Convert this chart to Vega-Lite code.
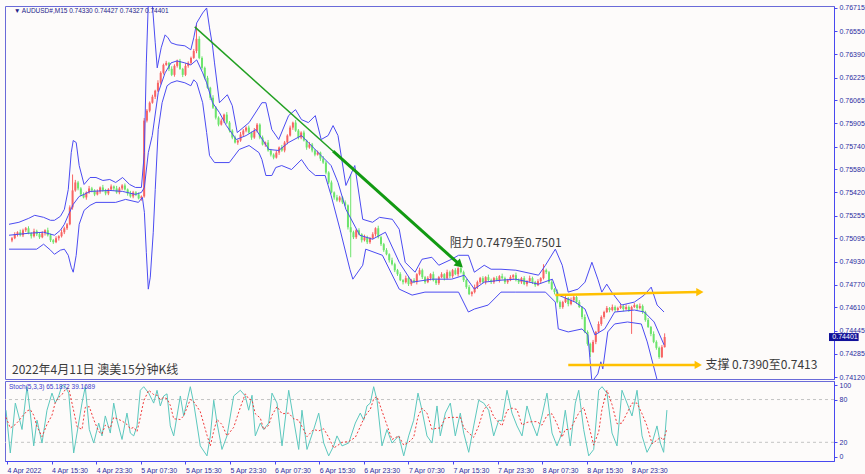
{
  "$schema": "https://vega.github.io/schema/vega-lite/v6.json",
  "background": "#FDFBFA",
  "padding": {"left": 3, "top": 3, "right": 0, "bottom": 0},
  "spacing": 2,
  "bounds": "flush",
  "config": {
    "view": {"stroke": "#6A6AD8", "strokeWidth": 1},
    "axis": {"labelFont": "Liberation Sans", "labelFontSize": 7, "labelColor": "#2B2BA0", "domainColor": "#4848F0", "tickColor": "#4848F0", "tickSize": 3, "grid": false, "labelPadding": 2, "labelOverlap": false}
  },
  "datasets": {
    "candles": "t,o,h,l,c\n0,0.75080,0.75105,0.75068,0.75096\n0.5,0.75096,0.75138,0.75089,0.75124\n1,0.75124,0.75145,0.75108,0.75138\n1.5,0.75138,0.75156,0.75108,0.75117\n2,0.75117,0.75163,0.75104,0.75152\n2.5,0.75152,0.75175,0.75140,0.75166\n3,0.75166,0.75180,0.75124,0.75131\n3.5,0.75131,0.75138,0.75094,0.75110\n4,0.75110,0.75163,0.75101,0.75145\n4.5,0.75145,0.75156,0.75111,0.75124\n5,0.75124,0.75133,0.75091,0.75103\n5.5,0.75103,0.75145,0.75096,0.75131\n6,0.75131,0.75159,0.75115,0.75152\n6.5,0.75152,0.75170,0.75108,0.75117\n7,0.75117,0.75128,0.75069,0.75082\n7.5,0.75082,0.75091,0.75056,0.75068\n8,0.75068,0.75110,0.75061,0.75096\n8.5,0.75096,0.75117,0.75080,0.75110\n9,0.75110,0.75156,0.75101,0.75138\n9.5,0.75138,0.75177,0.75125,0.75166\n10,0.75166,0.75203,0.75154,0.75194\n10.5,0.75194,0.75327,0.75187,0.75313\n11,0.75313,0.75544,0.75297,0.75432\n11.5,0.75432,0.75506,0.75423,0.75488\n12,0.75488,0.75499,0.75433,0.75446\n12.5,0.75446,0.75455,0.75392,0.75404\n13,0.75404,0.75418,0.75376,0.75383\n13.5,0.75383,0.75425,0.75367,0.75418\n14,0.75418,0.75464,0.75409,0.75446\n14.5,0.75446,0.75457,0.75419,0.75432\n15,0.75432,0.75441,0.75392,0.75404\n15.5,0.75404,0.75439,0.75397,0.75425\n16,0.75425,0.75460,0.75409,0.75453\n16.5,0.75453,0.75471,0.75423,0.75432\n17,0.75432,0.75443,0.75398,0.75411\n17.5,0.75411,0.75448,0.75399,0.75439\n18,0.75439,0.75474,0.75432,0.75460\n18.5,0.75460,0.75467,0.75430,0.75446\n19,0.75446,0.75464,0.75409,0.75418\n19.5,0.75418,0.75457,0.75405,0.75446\n20,0.75446,0.75476,0.75434,0.75467\n20.5,0.75467,0.75481,0.75432,0.75439\n21,0.75439,0.75446,0.75395,0.75411\n21.5,0.75411,0.75429,0.75381,0.75390\n22,0.75390,0.75429,0.75377,0.75418\n22.5,0.75418,0.75427,0.75392,0.75404\n23,0.75404,0.75418,0.75369,0.75376\n23.5,0.75376,0.75397,0.75360,0.75390\n24,0.75390,0.75941,0.75381,0.75923\n24.5,0.75923,0.76004,0.75910,0.75993\n25,0.75993,0.76058,0.75981,0.76049\n25.5,0.76049,0.76105,0.76042,0.76091\n26,0.76091,0.76140,0.76075,0.76133\n26.5,0.76133,0.76207,0.76124,0.76189\n27,0.76189,0.76270,0.76176,0.76259\n27.5,0.76259,0.76324,0.76247,0.76315\n28,0.76315,0.76343,0.76308,0.76329\n28.5,0.76329,0.76336,0.76271,0.76287\n29,0.76287,0.76305,0.76236,0.76245\n29.5,0.76245,0.76319,0.76232,0.76308\n30,0.76308,0.76352,0.76296,0.76343\n30.5,0.76343,0.76357,0.76280,0.76287\n31,0.76287,0.76294,0.76229,0.76245\n31.5,0.76245,0.76326,0.76236,0.76308\n32,0.76308,0.76340,0.76295,0.76329\n32.5,0.76329,0.76373,0.76317,0.76364\n33,0.76364,0.76427,0.76357,0.76413\n33.5,0.76413,0.76596,0.76397,0.76498\n34,0.76498,0.76516,0.76355,0.76364\n34.5,0.76364,0.76375,0.76281,0.76294\n35,0.76294,0.76303,0.76212,0.76224\n35.5,0.76224,0.76238,0.76147,0.76154\n36,0.76154,0.76161,0.76068,0.76084\n36.5,0.76084,0.76102,0.76005,0.76014\n37,0.76014,0.76025,0.75931,0.75944\n37.5,0.75944,0.75953,0.75883,0.75895\n38,0.75895,0.75937,0.75888,0.75923\n38.5,0.75923,0.75972,0.75907,0.75965\n39,0.75965,0.75983,0.75900,0.75909\n39.5,0.75909,0.75920,0.75840,0.75853\n40,0.75853,0.75862,0.75792,0.75804\n40.5,0.75804,0.75818,0.75762,0.75769\n41,0.75769,0.75790,0.75753,0.75783\n41.5,0.75783,0.75843,0.75774,0.75825\n42,0.75825,0.75864,0.75812,0.75853\n42.5,0.75853,0.75883,0.75841,0.75874\n43,0.75874,0.75888,0.75832,0.75839\n43.5,0.75839,0.75846,0.75788,0.75804\n44,0.75804,0.75871,0.75795,0.75853\n44.5,0.75853,0.75906,0.75840,0.75895\n45,0.75895,0.75904,0.75792,0.75804\n45.5,0.75804,0.75818,0.75748,0.75755\n46,0.75755,0.75776,0.75739,0.75769\n46.5,0.75769,0.75787,0.75704,0.75713\n47,0.75713,0.75724,0.75671,0.75684\n47.5,0.75684,0.75693,0.75651,0.75663\n48,0.75663,0.75712,0.75656,0.75698\n48.5,0.75698,0.75741,0.75682,0.75734\n49,0.75734,0.75752,0.75704,0.75713\n49.5,0.75713,0.75780,0.75700,0.75769\n50,0.75769,0.75827,0.75757,0.75818\n50.5,0.75818,0.75888,0.75811,0.75874\n51,0.75874,0.75916,0.75858,0.75909\n51.5,0.75909,0.75927,0.75844,0.75853\n52,0.75853,0.75864,0.75791,0.75804\n52.5,0.75804,0.75848,0.75792,0.75839\n53,0.75839,0.75853,0.75776,0.75783\n53.5,0.75783,0.75790,0.75718,0.75734\n54,0.75734,0.75773,0.75725,0.75755\n54.5,0.75755,0.75766,0.75700,0.75713\n55,0.75713,0.75722,0.75672,0.75684\n55.5,0.75684,0.75712,0.75677,0.75698\n56,0.75698,0.75705,0.75640,0.75656\n56.5,0.75656,0.75674,0.75619,0.75628\n57,0.75628,0.75639,0.75545,0.75558\n57.5,0.75558,0.75567,0.75476,0.75488\n58,0.75488,0.75502,0.75411,0.75418\n58.5,0.75418,0.75425,0.75367,0.75383\n59,0.75383,0.75401,0.75353,0.75362\n59.5,0.75362,0.75394,0.75349,0.75383\n60,0.75383,0.75392,0.75336,0.75348\n60.5,0.75348,0.75362,0.75320,0.75327\n61,0.75327,0.75334,0.75157,0.75173\n61.5,0.75173,0.75544,0.74962,0.75138\n62,0.75138,0.75149,0.75090,0.75103\n62.5,0.75103,0.75161,0.75091,0.75152\n63,0.75152,0.75166,0.75117,0.75124\n63.5,0.75124,0.75131,0.75066,0.75082\n64,0.75082,0.75121,0.75073,0.75103\n64.5,0.75103,0.75114,0.75055,0.75068\n65,0.75068,0.75105,0.75056,0.75096\n65.5,0.75096,0.75138,0.75089,0.75124\n66,0.75124,0.75173,0.75108,0.75166\n66.5,0.75166,0.75184,0.75094,0.75103\n67,0.75103,0.75114,0.75041,0.75054\n67.5,0.75054,0.75063,0.75000,0.75012\n68,0.75012,0.75026,0.74976,0.74983\n68.5,0.74983,0.74990,0.74925,0.74941\n69,0.74941,0.74959,0.74904,0.74913\n69.5,0.74913,0.74924,0.74858,0.74871\n70,0.74871,0.74880,0.74831,0.74843\n70.5,0.74843,0.74857,0.74794,0.74801\n71,0.74801,0.74808,0.74771,0.74787\n71.5,0.74787,0.74833,0.74778,0.74815\n72,0.74815,0.74826,0.74760,0.74773\n72.5,0.74773,0.74810,0.74761,0.74801\n73,0.74801,0.74815,0.74780,0.74787\n73.5,0.74787,0.74850,0.74771,0.74843\n74,0.74843,0.74889,0.74834,0.74871\n74.5,0.74871,0.74882,0.74809,0.74822\n75,0.74822,0.74831,0.74775,0.74787\n75.5,0.74787,0.74829,0.74780,0.74815\n76,0.74815,0.74850,0.74799,0.74843\n76.5,0.74843,0.74861,0.74792,0.74801\n77,0.74801,0.74812,0.74767,0.74780\n77.5,0.74780,0.74831,0.74768,0.74822\n78,0.74822,0.74857,0.74815,0.74843\n78.5,0.74843,0.74850,0.74799,0.74815\n79,0.74815,0.74875,0.74806,0.74857\n79.5,0.74857,0.74868,0.74816,0.74829\n80,0.74829,0.74880,0.74817,0.74871\n80.5,0.74871,0.74885,0.74836,0.74843\n81,0.74843,0.74892,0.74827,0.74885\n81.5,0.74885,0.74903,0.74848,0.74857\n82,0.74857,0.74868,0.74788,0.74801\n82.5,0.74801,0.74810,0.74740,0.74752\n83,0.74752,0.74766,0.74696,0.74703\n83.5,0.74703,0.74724,0.74687,0.74717\n84,0.74717,0.74770,0.74708,0.74752\n84.5,0.74752,0.74798,0.74739,0.74787\n85,0.74787,0.74824,0.74775,0.74815\n85.5,0.74815,0.74829,0.74780,0.74787\n86,0.74787,0.74829,0.74771,0.74822\n86.5,0.74822,0.74840,0.74792,0.74801\n87,0.74801,0.74812,0.74774,0.74787\n87.5,0.74787,0.74824,0.74775,0.74815\n88,0.74815,0.74829,0.74794,0.74801\n88.5,0.74801,0.74836,0.74785,0.74829\n89,0.74829,0.74847,0.74806,0.74815\n89.5,0.74815,0.74826,0.74774,0.74787\n90,0.74787,0.74810,0.74775,0.74801\n90.5,0.74801,0.74836,0.74794,0.74822\n91,0.74822,0.74843,0.74806,0.74836\n91.5,0.74836,0.74854,0.74792,0.74801\n92,0.74801,0.74812,0.74774,0.74787\n92.5,0.74787,0.74824,0.74775,0.74815\n93,0.74815,0.74829,0.74766,0.74773\n93.5,0.74773,0.74801,0.74757,0.74794\n94,0.74794,0.74833,0.74785,0.74815\n94.5,0.74815,0.74826,0.74774,0.74787\n95,0.74787,0.74796,0.74754,0.74766\n95.5,0.74766,0.74808,0.74759,0.74794\n96,0.74794,0.74822,0.74778,0.74815\n96.5,0.74815,0.74913,0.74806,0.74871\n97,0.74871,0.74882,0.74844,0.74857\n97.5,0.74857,0.74866,0.74775,0.74787\n98,0.74787,0.74801,0.74731,0.74738\n98.5,0.74738,0.74745,0.74701,0.74717\n99,0.74717,0.74735,0.74638,0.74647\n99.5,0.74647,0.74658,0.74599,0.74612\n100,0.74612,0.74656,0.74600,0.74647\n100.5,0.74647,0.74689,0.74640,0.74675\n101,0.74675,0.74682,0.74617,0.74633\n101.5,0.74633,0.74679,0.74624,0.74661\n102,0.74661,0.74693,0.74648,0.74682\n102.5,0.74682,0.74691,0.74635,0.74647\n103,0.74647,0.74661,0.74605,0.74612\n103.5,0.74612,0.74619,0.74526,0.74542\n104,0.74542,0.74560,0.74428,0.74437\n104.5,0.74437,0.74448,0.74340,0.74353\n105,0.74353,0.74362,0.74261,0.74296\n105.5,0.74296,0.74381,0.74289,0.74367\n106,0.74367,0.74444,0.74351,0.74437\n106.5,0.74437,0.74511,0.74428,0.74493\n107,0.74493,0.74553,0.74480,0.74542\n107.5,0.74542,0.74586,0.74530,0.74577\n108,0.74577,0.74619,0.74570,0.74605\n108.5,0.74605,0.74612,0.74575,0.74591\n109,0.74591,0.74630,0.74582,0.74612\n109.5,0.74612,0.74623,0.74578,0.74591\n110,0.74591,0.74614,0.74579,0.74605\n110.5,0.74605,0.74633,0.74598,0.74619\n111,0.74619,0.74626,0.74582,0.74598\n111.5,0.74598,0.74630,0.74589,0.74612\n112,0.74612,0.74623,0.74578,0.74591\n112.5,0.74591,0.74621,0.74423,0.74612\n113,0.74612,0.74640,0.74605,0.74626\n113.5,0.74626,0.74633,0.74589,0.74605\n114,0.74605,0.74637,0.74596,0.74619\n114.5,0.74619,0.74630,0.74564,0.74577\n115,0.74577,0.74586,0.74509,0.74521\n115.5,0.74521,0.74535,0.74465,0.74472\n116,0.74472,0.74479,0.74407,0.74423\n116.5,0.74423,0.74441,0.74358,0.74367\n117,0.74367,0.74378,0.74312,0.74325\n117.5,0.74325,0.74334,0.74248,0.74260\n118,0.74260,0.74344,0.74253,0.74330\n118.5,0.74330,0.74427,0.74327,0.74401",
    "bands": "t,b,p\n-0.54,u,0.75194\n1.26,u,0.75208\n3.05,u,0.75236\n4.13,u,0.75257\n5.74,u,0.75243\n7.00,u,0.75222\n7.71,u,0.75222\n8.79,u,0.75250\n9.51,u,0.75299\n10.22,u,0.75439\n10.76,u,0.75698\n11.12,u,0.75783\n11.66,u,0.75769\n12.20,u,0.75607\n13.09,u,0.75474\n14.17,u,0.75523\n15.25,u,0.75523\n16.50,u,0.75502\n17.76,u,0.75509\n18.83,u,0.75488\n20.09,u,0.75523\n21.35,u,0.75474\n22.42,u,0.75453\n23.50,u,0.75453\n24.04,u,0.75698\n24.39,u,0.76329\n24.75,u,0.76750\n25.47,u,0.76750\n26.01,u,0.76470\n26.37,u,0.76294\n27.09,u,0.76435\n27.80,u,0.76526\n28.34,u,0.76505\n28.88,u,0.76470\n29.95,u,0.76456\n31.39,u,0.76449\n32.47,u,0.76421\n33.00,u,0.76505\n33.54,u,0.76610\n34.62,u,0.76680\n35.34,u,0.76715\n35.87,u,0.76575\n36.41,u,0.76449\n36.77,u,0.76329\n37.67,u,0.76049\n39.10,u,0.76105\n40.00,u,0.76028\n40.90,u,0.75839\n43.05,u,0.75909\n45.38,u,0.76049\n46.10,u,0.76049\n47.18,u,0.75860\n48.43,u,0.75790\n50.22,u,0.75958\n51.48,u,0.76000\n52.56,u,0.75930\n53.81,u,0.75909\n55.07,u,0.75958\n56.14,u,0.75790\n57.40,u,0.75818\n58.30,u,0.75888\n59.19,u,0.75818\n60.63,u,0.75467\n62.24,u,0.75607\n63.68,u,0.75229\n65.47,u,0.75208\n66.73,u,0.75243\n69.06,u,0.75229\n70.31,u,0.75159\n71.39,u,0.74927\n73.18,u,0.74857\n74.44,u,0.74948\n76.23,u,0.74962\n77.49,u,0.74906\n79.82,u,0.74948\n81.08,u,0.74976\n82.87,u,0.74976\n83.95,u,0.74857\n85.74,u,0.74906\n86.99,u,0.74878\n88.79,u,0.74878\n91.48,u,0.74871\n95.60,u,0.74836\n96.86,u,0.74906\n98.65,u,0.75019\n99.91,u,0.74906\n100.99,u,0.74717\n102.78,u,0.74738\n104.04,u,0.74787\n105.29,u,0.74927\n106.37,u,0.74808\n107.09,u,0.74717\n107.99,u,0.74773\n108.88,u,0.74717\n110.68,u,0.74626\n113.01,u,0.74647\n114.80,u,0.74696\n116.06,u,0.74752\n117.13,u,0.74626\n118.39,u,0.74577\n-0.54,m,0.75117\n3.05,m,0.75131\n5.74,m,0.75138\n7.71,m,0.75117\n8.79,m,0.75152\n9.51,m,0.75194\n10.22,m,0.75257\n11.12,m,0.75334\n12.20,m,0.75390\n13.09,m,0.75404\n14.17,m,0.75425\n17.76,m,0.75432\n20.09,m,0.75425\n22.42,m,0.75404\n23.50,m,0.75418\n24.04,m,0.75453\n24.75,m,0.75698\n25.47,m,0.75818\n26.55,m,0.76119\n27.80,m,0.76259\n28.88,m,0.76329\n29.95,m,0.76343\n31.39,m,0.76329\n32.47,m,0.76315\n33.54,m,0.76350\n34.62,m,0.76259\n35.34,m,0.76189\n36.41,m,0.76049\n37.67,m,0.75979\n38.92,m,0.75888\n40.72,m,0.75790\n42.51,m,0.75818\n44.31,m,0.75860\n46.64,m,0.75720\n48.43,m,0.75713\n50.22,m,0.75769\n52.56,m,0.75818\n53.81,m,0.75769\n56.14,m,0.75677\n57.94,m,0.75607\n59.19,m,0.75488\n60.63,m,0.75299\n63.14,m,0.75117\n65.47,m,0.75089\n67.80,m,0.75138\n70.31,m,0.74927\n72.65,m,0.74787\n76.23,m,0.74808\n79.82,m,0.74808\n82.15,m,0.74836\n83.95,m,0.74738\n85.74,m,0.74787\n88.79,m,0.74801\n91.48,m,0.74808\n95.60,m,0.74773\n98.11,m,0.74808\n99.19,m,0.74696\n102.24,m,0.74647\n104.04,m,0.74598\n105.83,m,0.74416\n107.62,m,0.74458\n109.42,m,0.74577\n113.01,m,0.74591\n114.80,m,0.74577\n116.59,m,0.74507\n118.39,m,0.74346\n-0.54,l,0.75019\n4.48,l,0.75019\n5.74,l,0.75054\n7.00,l,0.75012\n7.71,l,0.74983\n8.79,l,0.75012\n9.51,l,0.75019\n10.22,l,0.74976\n10.76,l,0.74892\n11.12,l,0.74857\n11.66,l,0.74976\n12.20,l,0.75194\n13.09,l,0.75292\n14.17,l,0.75327\n15.25,l,0.75348\n18.83,l,0.75348\n20.63,l,0.75369\n22.96,l,0.75348\n23.68,l,0.75383\n24.04,l,0.75278\n24.39,l,0.74997\n24.75,l,0.74738\n25.11,l,0.74822\n25.65,l,0.75138\n26.01,l,0.75439\n26.55,l,0.75860\n27.26,l,0.76049\n28.16,l,0.76168\n28.88,l,0.76189\n29.95,l,0.76203\n31.39,l,0.76189\n32.47,l,0.76168\n33.00,l,0.76210\n33.54,l,0.76189\n34.62,l,0.76049\n35.34,l,0.75839\n35.87,l,0.75677\n36.77,l,0.75628\n39.46,l,0.75628\n41.26,l,0.75720\n43.05,l,0.75748\n44.84,l,0.75698\n45.38,l,0.75649\n46.10,l,0.75537\n47.18,l,0.75537\n47.89,l,0.75593\n48.97,l,0.75607\n50.76,l,0.75579\n52.56,l,0.75649\n53.81,l,0.75579\n55.07,l,0.75537\n56.86,l,0.75537\n57.94,l,0.75397\n59.55,l,0.75159\n61.35,l,0.74878\n61.89,l,0.74808\n63.68,l,0.74906\n64.22,l,0.75019\n67.26,l,0.74976\n70.31,l,0.74738\n72.65,l,0.74696\n74.98,l,0.74717\n81.08,l,0.74717\n82.87,l,0.74577\n83.95,l,0.74598\n86.46,l,0.74626\n88.79,l,0.74717\n91.48,l,0.74717\n96.86,l,0.74717\n98.65,l,0.74647\n99.19,l,0.74458\n100.99,l,0.74437\n103.50,l,0.74458\n104.57,l,0.74416\n105.29,l,0.74086\n106.37,l,0.74142\n106.91,l,0.74227\n107.27,l,0.74177\n108.17,l,0.74437\n109.42,l,0.74493\n111.75,l,0.74507\n114.26,l,0.74493\n115.34,l,0.74367\n117.13,l,0.74100\n118.39,l,0.73981",
    "stoch": "t,k,d\n-0.18,65,55\n0.59,5,40\n1.49,75,45\n2.10,57,50\n2.69,38,56\n3.59,98,64\n4.18,61,66\n4.79,15,58\n5.38,51,42\n6.28,19,28\n7.17,65,45\n8.07,89,58\n8.66,75,76\n9.27,85,83\n9.87,100,87\n10.46,98,94\n11.07,89,96\n11.96,5,64\n12.56,33,42\n13.45,75,38\n14.04,98,69\n14.76,38,70\n15.55,19,52\n16.45,47,35\n17.04,29,32\n17.63,57,44\n18.53,33,40\n19.14,75,55\n19.73,51,53\n20.63,24,50\n21.52,61,45\n22.12,33,39\n22.73,29,41\n23.32,43,35\n23.91,93,55\n24.52,98,78\n25.42,89,93\n26.31,75,87\n26.91,93,86\n27.50,71,80\n28.11,85,83\n28.70,88,81\n29.29,43,72\n29.90,29,53\n31.09,85,52\n31.69,57,57\n32.88,98,80\n33.49,75,77\n34.67,15,63\n35.87,1,30\n36.47,29,15\n37.08,79,36\n37.67,47,52\n38.56,10,45\n39.46,29,29\n40.66,85,41\n41.85,93,69\n42.74,85,88\n43.35,65,81\n43.95,86,79\n44.54,29,60\n45.44,47,54\n46.04,38,38\n46.94,47,44\n47.53,89,58\n48.43,75,70\n49.33,15,60\n50.53,93,61\n51.43,51,53\n52.32,10,51\n52.91,65,42\n53.81,10,28\n55.01,38,38\n55.91,61,36\n56.81,19,39\n57.70,1,27\n58.60,15,12\n59.19,29,15\n60.09,15,20\n61.29,19,21\n62.48,47,27\n63.37,61,42\n63.98,51,53\n64.57,71,61\n65.16,75,66\n65.77,98,81\n66.37,79,84\n67.26,15,64\n68.16,38,44\n69.06,19,24\n70.26,29,29\n71.16,1,16\n72.05,29,20\n72.95,51,27\n73.72,89,56\n74.44,65,68\n75.33,29,61\n76.23,19,38\n77.13,71,40\n77.72,29,40\n78.62,61,54\n79.52,75,55\n80.41,29,55\n81.31,61,55\n81.92,33,41\n82.82,6,33\n83.71,43,27\n84.61,79,43\n85.51,75,66\n86.40,65,73\n87.30,29,56\n88.20,51,48\n88.79,50,43\n89.69,93,65\n90.58,61,68\n91.48,43,66\n92.38,29,44\n93.27,71,48\n94.17,47,49\n95.07,29,49\n95.96,57,44\n96.86,89,58\n97.76,33,60\n98.65,15,46\n99.55,33,27\n100.14,65,38\n101.04,15,38\n101.94,75,52\n102.55,93,61\n103.44,38,69\n104.34,1,44\n105.24,10,16\n106.14,93,35\n106.73,98,67\n107.62,89,93\n108.52,33,73\n109.42,15,46\n110.31,93,47\n111.21,75,61\n112.11,57,75\n113.01,93,75\n113.91,29,60\n114.80,6,43\n115.70,19,18\n116.59,43,23\n117.19,19,27\n117.78,6,23\n118.37,65.19,39.17"
  },
  "vconcat": [
    {
      "width": 829,
      "height": 373,
      "layer": [
        {
          "data": {"name": "candles", "format": {"type": "csv", "parse": {"t": "number", "o": "number", "h": "number", "l": "number", "c": "number"}}},
          "mark": {"type": "rule", "strokeWidth": 1},
          "encoding": {
            "x": {"field": "t", "type": "quantitative", "scale": {"domain": [-0.36, 148.34], "nice": false, "zero": false}, "axis": null, "title": null},
            "y": {"field": "l", "type": "quantitative", "scale": {"domain": [0.74106, 0.76729], "nice": false, "zero": false}, "title": null,
                  "axis": {"orient": "right", "values": [0.7412, 0.74285, 0.74445, 0.7461, 0.7477, 0.7493, 0.75095, 0.75255, 0.7542, 0.7558, 0.7574, 0.75905, 0.76065, 0.76225, 0.7639, 0.7655, 0.76715], "tickCount": 60, "format": ".5f", "title": null, "labelOverlap": false}},
            "y2": {"field": "h"},
            "color": {"condition": {"test": "datum.c >= datum.o", "value": "#F86464"}, "value": "#6CE46C"}
          }
        },
        {
          "data": {"name": "candles", "format": {"type": "csv", "parse": {"t": "number", "o": "number", "h": "number", "l": "number", "c": "number"}}},
          "mark": {"type": "bar", "size": 2, "orient": "vertical"},
          "encoding": {
            "x": {"field": "t", "type": "quantitative", "scale": {"domain": [-0.36, 148.34], "nice": false, "zero": false}, "axis": null, "title": null},
            "y": {"field": "o", "type": "quantitative", "scale": {"domain": [0.74106, 0.76729], "nice": false, "zero": false}, "title": null},
            "y2": {"field": "c"},
            "color": {"condition": {"test": "datum.c >= datum.o", "value": "#F86464"}, "value": "#6CE46C"}
          }
        },
        {
          "data": {"name": "bands", "format": {"type": "csv", "parse": {"t": "number", "p": "number"}}},
          "mark": {"type": "line", "color": "#4B4BF2", "strokeWidth": 1, "clip": true},
          "encoding": {
            "x": {"field": "t", "type": "quantitative", "scale": {"domain": [-0.36, 148.34], "nice": false, "zero": false}, "axis": null, "title": null},
            "y": {"field": "p", "type": "quantitative", "scale": {"domain": [0.74106, 0.76729], "nice": false, "zero": false}, "title": null},
            "detail": {"field": "b", "type": "nominal"}
          }
        },
        {
          "data": {"values": [{"t": 33.18, "p": 0.76582}, {"t": 58.3, "p": 0.75708}]},
          "mark": {"type": "line", "color": "#22A022", "strokeWidth": 1.5},
          "encoding": {
            "x": {"field": "t", "type": "quantitative", "scale": {"domain": [-0.36, 148.34], "nice": false, "zero": false}, "axis": null, "title": null},
            "y": {"field": "p", "type": "quantitative", "scale": {"domain": [0.74106, 0.76729], "nice": false, "zero": false}, "title": null}
          }
        },
        {
          "data": {"values": [{"t": 58.3, "p": 0.75708}, {"t": 81.4, "p": 0.74906}]},
          "mark": {"type": "line", "color": "#129A12", "strokeWidth": 3},
          "encoding": {
            "x": {"field": "t", "type": "quantitative", "scale": {"domain": [-0.36, 148.34], "nice": false, "zero": false}, "axis": null, "title": null},
            "y": {"field": "p", "type": "quantitative", "scale": {"domain": [0.74106, 0.76729], "nice": false, "zero": false}, "title": null}
          }
        },
        {
          "data": {"values": [{"t": 81.3, "p": 0.74909}]},
          "mark": {"type": "point", "shape": "triangle-right", "angle": 41.7, "size": 90, "filled": true, "opacity": 1, "color": "#129A12"},
          "encoding": {
            "x": {"field": "t", "type": "quantitative", "scale": {"domain": [-0.36, 148.34], "nice": false, "zero": false}, "axis": null, "title": null},
            "y": {"field": "p", "type": "quantitative", "scale": {"domain": [0.74106, 0.76729], "nice": false, "zero": false}, "title": null}
          }
        },
        {
          "data": {"values": [{"g": "r", "t": 98.65, "p": 0.74696}, {"g": "r", "t": 124.6, "p": 0.74717}, {"g": "s", "t": 101.0, "p": 0.74205}, {"g": "s", "t": 124.2, "p": 0.74205}]},
          "mark": {"type": "line", "color": "#FFC000", "strokeWidth": 2.5},
          "encoding": {
            "x": {"field": "t", "type": "quantitative", "scale": {"domain": [-0.36, 148.34], "nice": false, "zero": false}, "axis": null, "title": null},
            "y": {"field": "p", "type": "quantitative", "scale": {"domain": [0.74106, 0.76729], "nice": false, "zero": false}, "title": null},
            "detail": {"field": "g", "type": "nominal"}
          }
        },
        {
          "data": {"values": [{"t": 124.9, "p": 0.74717}, {"t": 124.6, "p": 0.74205}]},
          "mark": {"type": "point", "shape": "triangle-right", "size": 70, "filled": true, "opacity": 1, "color": "#FFC000"},
          "encoding": {
            "x": {"field": "t", "type": "quantitative", "scale": {"domain": [-0.36, 148.34], "nice": false, "zero": false}, "axis": null, "title": null},
            "y": {"field": "p", "type": "quantitative", "scale": {"domain": [0.74106, 0.76729], "nice": false, "zero": false}, "title": null}
          }
        },
        {
          "data": {"values": [{"t": 0.36, "p": 0.76694, "label": "▼  AUDUSD#,M15  0.74330 0.74427 0.74327 0.74401"}]},
          "mark": {"type": "text", "align": "left", "baseline": "middle", "font": "Liberation Sans", "fontSize": 6.5, "color": "#24248A"},
          "encoding": {
            "x": {"field": "t", "type": "quantitative", "scale": {"domain": [-0.36, 148.34], "nice": false, "zero": false}, "axis": null, "title": null},
            "y": {"field": "p", "type": "quantitative", "scale": {"domain": [0.74106, 0.76729], "nice": false, "zero": false}, "title": null},
            "text": {"field": "label"}
          }
        },
        {
          "data": {"values": [{"t": 0.0, "p": 0.74170, "label": "2022年4月11日 澳美15分钟K线"}, {"t": 79.46, "p": 0.75061, "label": "阻力 0.7479至0.7501"}, {"t": 125.9, "p": 0.74205, "label": "支撑 0.7390至0.7413"}]},
          "mark": {"type": "text", "align": "left", "baseline": "middle", "font": "Noto Sans CJK SC", "fontSize": 12, "color": "#3A3A3A"},
          "encoding": {
            "x": {"field": "t", "type": "quantitative", "scale": {"domain": [-0.36, 148.34], "nice": false, "zero": false}, "axis": null, "title": null},
            "y": {"field": "p", "type": "quantitative", "scale": {"domain": [0.74106, 0.76729], "nice": false, "zero": false}, "title": null},
            "text": {"field": "label"}
          }
        },
        {
          "data": {"values": [{"t1": 148.34, "t2": 153.72, "p1": 0.74373, "p2": 0.74429}]},
          "mark": {"type": "rect", "color": "#12129A"},
          "encoding": {
            "x": {"field": "t1", "type": "quantitative", "scale": {"domain": [-0.36, 148.34], "nice": false, "zero": false}, "axis": null, "title": null},
            "x2": {"field": "t2"},
            "y": {"field": "p1", "type": "quantitative", "scale": {"domain": [0.74106, 0.76729], "nice": false, "zero": false}, "title": null},
            "y2": {"field": "p2"}
          }
        },
        {
          "data": {"values": [{"t": 148.95, "p": 0.74401, "label": "0.74401"}]},
          "mark": {"type": "text", "align": "left", "baseline": "middle", "font": "Liberation Sans", "fontSize": 7, "color": "#FFFFFF"},
          "encoding": {
            "x": {"field": "t", "type": "quantitative", "scale": {"domain": [-0.36, 148.34], "nice": false, "zero": false}, "axis": null, "title": null},
            "y": {"field": "p", "type": "quantitative", "scale": {"domain": [0.74106, 0.76729], "nice": false, "zero": false}, "title": null},
            "text": {"field": "label"}
          }
        }
      ]
    },
    {
      "width": 829,
      "height": 80,
      "layer": [
        {
          "data": {"values": [{"lvl": 20}, {"lvl": 80}]},
          "mark": {"type": "rule", "color": "#C4C4C4", "strokeDash": [3, 3], "strokeWidth": 1},
          "encoding": {
            "y": {"field": "lvl", "type": "quantitative", "scale": {"domain": [-6.2, 106], "nice": false, "zero": false}, "title": null,
                  "axis": {"orient": "right", "values": [0, 20, 80, 100], "tickCount": 20, "title": null, "labelOverlap": false}}
          }
        },
        {
          "data": {"name": "stoch", "format": {"type": "csv", "parse": {"t": "number", "k": "number", "d": "number"}}},
          "mark": {"type": "line", "color": "#5CC8BE", "strokeWidth": 1},
          "encoding": {
            "x": {"field": "t", "type": "quantitative", "scale": {"domain": [-0.36, 148.34], "nice": false, "zero": false}, "title": null,
                  "axis": {"orient": "bottom", "values": [0, 8, 16, 24, 32, 40, 48, 56, 64, 72, 80, 88, 96, 104, 112], "tickCount": 60, "labelExpr": "['4 Apr 2022','4 Apr 15:30','4 Apr 23:30','5 Apr 07:30','5 Apr 15:30','5 Apr 23:30','6 Apr 07:30','6 Apr 15:30','6 Apr 23:30','7 Apr 07:30','7 Apr 15:30','7 Apr 23:30','8 Apr 07:30','8 Apr 15:30','8 Apr 23:30'][round(datum.value/8)]", "labelAlign": "left", "labelOverlap": false, "labelFlush": false, "labelBound": false, "title": null}},
            "y": {"field": "k", "type": "quantitative", "scale": {"domain": [-6.2, 106], "nice": false, "zero": false}, "title": null}
          }
        },
        {
          "data": {"name": "stoch", "format": {"type": "csv", "parse": {"t": "number", "k": "number", "d": "number"}}},
          "mark": {"type": "line", "color": "#F03C3C", "strokeWidth": 1, "strokeDash": [2, 2]},
          "encoding": {
            "x": {"field": "t", "type": "quantitative", "scale": {"domain": [-0.36, 148.34], "nice": false, "zero": false}, "title": null},
            "y": {"field": "d", "type": "quantitative", "scale": {"domain": [-6.2, 106], "nice": false, "zero": false}, "title": null}
          }
        },
        {
          "data": {"values": [{"t": 0.36, "v": 97.5, "label": "Stoch(5,3,3) 65.1872 39.1689"}]},
          "mark": {"type": "text", "align": "left", "baseline": "middle", "font": "Liberation Sans", "fontSize": 6.5, "color": "#3A3ACC"},
          "encoding": {
            "x": {"field": "t", "type": "quantitative", "scale": {"domain": [-0.36, 148.34], "nice": false, "zero": false}, "title": null},
            "y": {"field": "v", "type": "quantitative", "scale": {"domain": [-6.2, 106], "nice": false, "zero": false}, "title": null},
            "text": {"field": "label"}
          }
        }
      ]
    }
  ]
}
